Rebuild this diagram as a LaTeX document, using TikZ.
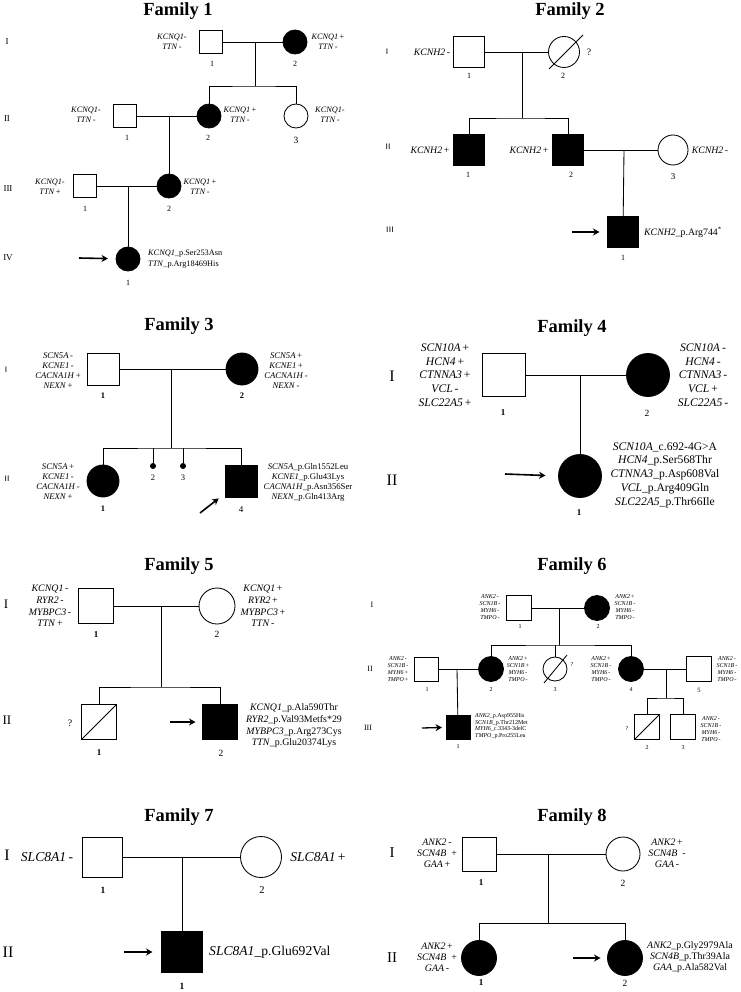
\documentclass[tikz,border=0pt]{standalone}
\usepackage{fontspec}
\setmainfont{Liberation Serif}
\usetikzlibrary{arrows.meta}
\newcommand{\gene}[1]{\textit{#1}}
\tikzset{
  ind/.style={draw, inner sep=0pt, outer sep=0pt, line width=0.85pt},
  male/.style={ind, rectangle, minimum size=#1},
  female/.style={ind, circle, minimum size=#1},
  aff/.style={fill=black},
  ln/.style={line width=0.85pt},
  dotnode/.style={circle, fill=black, inner sep=0pt, minimum size=6pt},
  proband/.style={line width=1.6pt, -{Stealth[length=6.5pt,width=7pt]}, shorten >=#1},
  title/.style={font=\bfseries\fontsize{18.5}{20}\selectfont, inner sep=0pt},
  lab/.style={align=center, inner sep=0pt},
  t1/.style={lab, font=\fontsize{8.3}{10.5}\selectfont},
  t2/.style={lab, font=\fontsize{9.8}{11}\selectfont},
  t3/.style={lab, font=\fontsize{8.7}{10}\selectfont},
  t4/.style={lab, font=\fontsize{11.6}{13.8}\selectfont},
  t5/.style={lab, font=\fontsize{9.9}{11.7}\selectfont},
  t6/.style={lab, font=\fontsize{6}{6.7}\selectfont},
  t7/.style={lab, font=\fontsize{13.6}{15}\selectfont},
  t8/.style={lab, font=\fontsize{9.9}{10.8}\selectfont},
  num/.style={inner sep=0pt, font=\fontsize{#1}{#1}\selectfont},
  bnum/.style={inner sep=0pt, font=\bfseries\fontsize{#1}{#1}\selectfont},
  gen/.style={inner sep=0pt, font=\fontsize{#1}{#1}\selectfont},
  sgen/.style={inner sep=0pt, font=\sffamily\fontsize{#1}{#1}\selectfont},
}
\begin{document}
\begin{tikzpicture}[x=1pt,y=-1pt]
\path[use as bounding box] (0,0) rectangle (740,992);

% ================= Family 1 =================
\node[title] (F1t) at (178,11) {Family 1};
\node[gen=9] (F1gI) at (7,42) {I};
\node[gen=9] (F1gII) at (7,119) {II};
\node[gen=9] (F1gIII) at (8,189) {III};
\node[gen=9] (F1gIV) at (8,258) {IV};
\node[male=23] (F1I1) at (211,42) {};
\node[female=24,aff] (F1I2) at (295,42) {};
\coordinate (F1m1) at (255,42);
\coordinate (F1s1) at (255,86);
\node[male=23] (F1II1) at (125,116) {};
\node[female=24,aff] (F1II2) at (209,116) {};
\node[female=24] (F1II3) at (296,116) {};
\coordinate (F1m2) at (169,116);
\node[male=23] (F1III1) at (85,186) {};
\node[female=24,aff] (F1III2) at (169,186) {};
\coordinate (F1m3) at (128,186);
\node[female=24,aff] (F1IV1) at (128,259) {};
\coordinate (F1a) at (79,258);
\draw[ln] (F1I1) -- (F1I2);
\draw[ln] (F1m1) -- (F1s1);
\draw[ln] (F1II2) |- (F1s1) -| (F1II3);
\draw[ln] (F1II1) -- (F1II2);
\draw[ln] (F1m2) -- (F1III2);
\draw[ln] (F1III1) -- (F1III2);
\draw[ln] (F1m3) -- (F1IV1);
\draw[proband=8pt] (F1a) -- (F1IV1);
\node[t1] (F1I1g) at (172,42) {\gene{KCNQ1}-\\\gene{TTN}\,-};
\node[t1] (F1I2g) at (328,42) {\gene{KCNQ1}\,+\\\gene{TTN}\,-};
\node[t1] (F1II1g) at (86,115) {\gene{KCNQ1}-\\\gene{TTN}\,-};
\node[t1] (F1II2g) at (240,115) {\gene{KCNQ1}\,+\\\gene{TTN}\,-};
\node[t1] (F1II3g) at (330,115) {\gene{KCNQ1}-\\\gene{TTN}\,-};
\node[t1] (F1III1g) at (50,187) {\gene{KCNQ1}-\\\gene{TTN}\,+};
\node[t1] (F1III2g) at (200,187) {\gene{KCNQ1}\,+\\\gene{TTN}\,-};
\node[t1, anchor=west, align=left] (F1IV1g) at (148,259) {\gene{KCNQ1}\_p.Ser253Asn\\\gene{TTN}\_p.Arg18469His};
\node[num=8] (F1I1n) at (212,64) {1};
\node[num=8] (F1I2n) at (295,64) {2};
\node[num=8] (F1II1n) at (127,138) {1};
\node[num=8] (F1II2n) at (208,138) {2};
\node[num=9.5] (F1II3n) at (296,140) {3};
\node[num=8] (F1III1n) at (85,209) {1};
\node[num=8] (F1III2n) at (169,209) {2};
\node[num=8] (F1IV1n) at (128,283) {1};

% ================= Family 2 =================
\node[title] (F2t) at (570,11) {Family 2};
\node[sgen=8] (F2gI) at (387,52) {I};
\node[sgen=8] (F2gII) at (388,147) {II};
\node[sgen=8] (F2gIII) at (390,230) {III};
\node[male=31] (F2I1) at (469,52) {};
\node[female=31] (F2I2) at (564,52) {};
\coordinate (F2d1) at (549,69);
\coordinate (F2d2) at (583,35);
\draw[ln] (F2d1) -- (F2d2);
\coordinate (F2m1) at (522,52);
\coordinate (F2s1) at (522,118);
\node[male=31,aff] (F2II1) at (469,150) {};
\node[male=31,aff] (F2II2) at (568,150) {};
\node[female=30] (F2II3) at (673,150) {};
\coordinate (F2m2) at (624,150);
\node[male=31,aff] (F2III1) at (623,232) {};
\coordinate (F2a) at (572,232);
\draw[ln] (F2I1) -- (F2I2);
\draw[ln] (F2m1) -- (F2s1);
\draw[ln] (F2II1) |- (F2s1) -| (F2II2);
\draw[ln] (F2II2) -- (F2II3);
\draw[ln] (F2m2) -- (F2III1);
\draw[proband=8pt] (F2a) -- (F2III1);
\node[t2] (F2I2q) at (589,52) {?};
\node[t2] (F2I1g) at (432,52) {\gene{KCNH2}\,-};
\node[t2] (F2II1g) at (430,150) {\gene{KCNH2}\,+};
\node[t2] (F2II2g) at (529,150) {\gene{KCNH2}\,+};
\node[t2] (F2II3g) at (710,150) {\gene{KCNH2}\,-};
\node[t2, anchor=west] (F2III1g) at (644,232) {\gene{KCNH2}\_p.Arg744\textsuperscript{*}};
\node[num=8] (F2I1n) at (469,76) {1};
\node[num=8] (F2I2n) at (563,76) {2};
\node[num=8] (F2II1n) at (468,175) {1};
\node[num=8] (F2II2n) at (571,175) {2};
\node[num=9] (F2II3n) at (673,177) {3};
\node[num=8] (F2III1n) at (623,258) {1};

% ================= Family 3 =================
\node[title] (F3t) at (179,326) {Family 3};
\node[sgen=8] (F3gI) at (6,370) {I};
\node[sgen=8] (F3gII) at (7,479) {II};
\node[male=32] (F3I1) at (103,369) {};
\node[female=32,aff] (F3I2) at (242,369) {};
\coordinate (F3m1) at (171,369);
\coordinate (F3s1) at (171,448);
\node[female=32,aff] (F3II1) at (103,481) {};
\node[dotnode] (F3II2) at (153,466) {};
\node[dotnode] (F3II3) at (183,466) {};
\node[male=32,aff] (F3II4) at (241,481) {};
\coordinate (F3s2) at (153,448);
\coordinate (F3s3) at (183,448);
\coordinate (F3a) at (200,513);
\draw[ln] (F3I1) -- (F3I2);
\draw[ln] (F3m1) -- (F3s1);
\draw[ln] (F3II1) |- (F3s1) -| (F3II4);
\draw[ln] (F3s2) -- (F3II2);
\draw[ln] (F3s3) -- (F3II3);
\draw[proband=8pt] (F3a) -- (F3II4);
\node[t3] (F3I1g) at (58,371) {\gene{SCN5A}\,-\\\gene{KCNE1}\,-\\\gene{CACNA1H}\,+\\\gene{NEXN}\,+};
\node[t3] (F3I2g) at (286,371) {\gene{SCN5A}\,+\\\gene{KCNE1}\,+\\\gene{CACNA1H}\,-\\\gene{NEXN}\,-};
\node[t3] (F3II1g) at (58,482) {\gene{SCN5A}\,+\\\gene{KCNE1}\,-\\\gene{CACNA1H}\,-\\\gene{NEXN}\,+};
\node[t3] (F3II4g) at (308,482) {\gene{SCN5A}\_p.Gln1552Leu\\\gene{KCNE1}\_p.Glu43Lys\\\gene{CACNA1H}\_p.Asn356Ser\\\gene{NEXN}\_p.Gln413Arg};
\node[bnum=8.5] (F3I1n) at (103,396) {1};
\node[bnum=8.5] (F3I2n) at (242,396) {2};
\node[num=8.5] (F3II2n) at (153,478) {2};
\node[num=8.5] (F3II3n) at (183,478) {3};
\node[bnum=8.5] (F3II1n) at (103,509) {1};
\node[num=9] (F3II4n) at (241,510) {4};

% ================= Family 4 =================
\node[title] (F4t) at (572,328) {Family 4};
\node[gen=16] (F4gI) at (392,376) {I};
\node[gen=16] (F4gII) at (392,480) {II};
\node[male=43] (F4I1) at (504,375) {};
\node[female=43,aff] (F4I2) at (648,375) {};
\coordinate (F4m1) at (580,375);
\node[female=43,aff] (F4II1) at (580,476) {};
\coordinate (F4a) at (505,474);
\draw[ln] (F4I1) -- (F4I2);
\draw[ln] (F4m1) -- (F4II1);
\draw[proband=13pt] (F4a) -- (F4II1.west);
\node[t4] (F4I1g) at (445,375) {\gene{SCN10A}\,+\\\gene{HCN4}\,+\\\gene{CTNNA3}\,+\\\gene{VCL}\,-\\\gene{SLC22A5}\,+};
\node[t4] (F4I2g) at (703,375) {\gene{SCN10A}\,-\\\gene{HCN4}\,-\\\gene{CTNNA3}\,-\\\gene{VCL}\,+\\\gene{SLC22A5}\,-};
\node[t4] (F4II1g) at (665,475) {\gene{SCN10A}\_c.692-4G>A\\\gene{HCN4}\_p.Ser568Thr\\\gene{CTNNA3}\_p.Asp608Val\\\gene{VCL}\_p.Arg409Gln\\\gene{SLC22A5}\_p.Thr66Ile};
\node[bnum=9] (F4I1n) at (503,413) {1};
\node[num=9.5] (F4I2n) at (647,413) {2};
\node[bnum=9] (F4II1n) at (579,513) {1};

% ================= Family 5 =================
\node[title] (F5t) at (179,566) {Family 5};
\node[gen=13] (F5gI) at (6,604) {I};
\node[gen=13] (F5gII) at (7,720) {II};
\node[male=35] (F5I1) at (96,606) {};
\node[female=36] (F5I2) at (217,606) {};
\coordinate (F5m1) at (161,606);
\coordinate (F5s1) at (161,687);
\node[male=35] (F5II1) at (99,722) {};
\node[male=35,aff] (F5II2) at (220,722) {};
\coordinate (F5a) at (170,722);
\draw[ln] (F5I1) -- (F5I2);
\draw[ln] (F5m1) -- (F5s1);
\draw[ln] (F5II1) |- (F5s1) -| (F5II2);
\draw[ln] (F5II1.south west) -- (F5II1.north east);
\draw[proband=7pt] (F5a) -- (F5II2);
\node[t5] (F5II1q) at (70,723) {?};
\node[t5] (F5I1g) at (50,606) {\gene{KCNQ1}\,-\\\gene{RYR2}\,-\\\gene{MYBPC3}\,-\\\gene{TTN}\,+};
\node[t5] (F5I2g) at (263,606) {\gene{KCNQ1}\,+\\\gene{RYR2}\,+\\\gene{MYBPC3}\,+\\\gene{TTN}\,-};
\node[t5] (F5II2g) at (294,726) {\gene{KCNQ1}\_p.Ala590Thr\\\gene{RYR2}\_p.Val93Metfs*29\\\gene{MYBPC3}\_p.Arg273Cys\\\gene{TTN}\_p.Glu20374Lys};
\node[bnum=9] (F5I1n) at (96,635) {1};
\node[num=9.5] (F5I2n) at (217,634) {2};
\node[bnum=9] (F5II1n) at (99,753) {1};
\node[num=9.5] (F5II2n) at (221,753) {2};

% ================= Family 6 =================
\node[title] (F6t) at (572,566) {Family 6};
\node[gen=8] (F6gI) at (372,605) {I};
\node[gen=8] (F6gII) at (370,669) {II};
\node[gen=8] (F6gIII) at (368,728) {III};
\node[male=25] (F6I1) at (519,608) {};
\node[female=25,aff] (F6I2) at (597,608) {};
\coordinate (F6m1) at (559,608);
\coordinate (F6s1) at (559,645);
\node[male=24] (F6II1) at (426,669) {};
\node[female=25,aff] (F6II2) at (491,669) {};
\node[female=24] (F6II3) at (555,669) {};
\node[female=25,aff] (F6II4) at (631,669) {};
\node[male=25] (F6II5) at (699,669) {};
\coordinate (F6s3) at (555,645);
\coordinate (F6m2) at (457,669);
\coordinate (F6m3) at (666,669);
\coordinate (F6s4) at (666,698);
\node[male=24,aff] (F6III1) at (458,727) {};
\node[male=25] (F6III2) at (647,727) {};
\node[male=25] (F6III3) at (683,727) {};
\coordinate (F6d1) at (544,683);
\coordinate (F6d2) at (567,655);
\coordinate (F6a) at (422,728);
\draw[ln] (F6I1) -- (F6I2);
\draw[ln] (F6m1) -- (F6s1);
\draw[ln] (F6II2) |- (F6s1) -| (F6II4);
\draw[ln] (F6s3) -- (F6II3);
\draw[ln] (F6d1) -- (F6d2);
\draw[ln] (F6II1) -- (F6II2);
\draw[ln] (F6m2) -- (F6III1);
\draw[ln] (F6II4) -- (F6II5);
\draw[ln] (F6m3) -- (F6s4);
\draw[ln] (F6III2) |- (F6s4) -| (F6III3);
\draw[ln] (F6III2.south west) -- (F6III2.north east);
\draw[proband=4pt, line width=1.3pt] (F6a) -- (F6III1);
\node[t6] (F6II3q) at (572,665) {?};
\node[t6] (F6III2q) at (627,729) {?};
\node[t6] (F6I1g) at (490,607) {\gene{ANK2}\,-\\\gene{SCN1B}\,-\\\gene{MYH6}\,-\\\gene{TMPO}\,-};
\node[t6] (F6I2g) at (625,607) {\gene{ANK2}\,+\\\gene{SCN1B}\,-\\\gene{MYH6}\,-\\\gene{TMPO}\,-};
\node[t6] (F6II1g) at (398,669) {\gene{ANK2}\,-\\\gene{SCN1B}\,-\\\gene{MYH6}\,+\\\gene{TMPO}\,+};
\node[t6] (F6II2g) at (518,669) {\gene{ANK2}\,+\\\gene{SCN1B}\,+\\\gene{MYH6}\,-\\\gene{TMPO}\,-};
\node[t6] (F6II4g) at (601,669) {\gene{ANK2}\,+\\\gene{SCN1B}\,-\\\gene{MYH6}\,-\\\gene{TMPO}\,-};
\node[t6] (F6II5g) at (727,669) {\gene{ANK2}\,-\\\gene{SCN1B}\,-\\\gene{MYH6}\,-\\\gene{TMPO}\,-};
\node[t6, anchor=west, align=left] (F6III1g) at (475,726) {\gene{ANK2}\_p.Asp955His\\\gene{SCN1B}\_p.Thr212Met\\\gene{MYH6}\_c.3343-3delC\\\gene{TMPO}\_p.Pro255Leu};
\node[t6] (F6III3g) at (711,729) {\gene{ANK2}\,-\\\gene{SCN1B}\,-\\\gene{MYH6}\,-\\\gene{TMPO}\,-};
\node[num=6] (F6I1n) at (520,627) {1};
\node[num=6] (F6I2n) at (598,627) {2};
\node[num=6] (F6II1n) at (427,690) {1};
\node[num=6] (F6II2n) at (491,690) {2};
\node[num=6] (F6II3n) at (555,690) {3};
\node[num=6] (F6II4n) at (631,690) {4};
\node[num=6.5] (F6II5n) at (699,690) {5};
\node[num=6] (F6III1n) at (458,747) {1};
\node[num=6] (F6III2n) at (647,748) {2};
\node[num=6] (F6III3n) at (683,748) {3};

% ================= Family 7 =================
\node[title] (F7t) at (179,817) {Family 7};
\node[gen=16] (F7gI) at (7,855) {I};
\node[gen=16] (F7gII) at (8,952) {II};
\node[male=40] (F7I1) at (102,857) {};
\node[female=41] (F7I2) at (261,857) {};
\coordinate (F7m1) at (182,857);
\node[male=41,aff] (F7II1) at (182,952) {};
\coordinate (F7a) at (124,952);
\draw[ln] (F7I1) -- (F7I2);
\draw[ln] (F7m1) -- (F7II1);
\draw[proband=9pt] (F7a) -- (F7II1);
\node[t7] (F7I1g) at (47,857) {\gene{SLC8A1}\,-};
\node[t7] (F7I2g) at (318,857) {\gene{SLC8A1}\,+};
\node[t7, anchor=west] (F7II1g) at (209,952) {\gene{SLC8A1}\_p.Glu692Val};
\node[bnum=9.5] (F7I1n) at (103,890) {1};
\node[num=10.5] (F7I2n) at (262,890) {2};
\node[bnum=9.5] (F7II1n) at (182,986) {1};

% ================= Family 8 =================
\node[title] (F8t) at (572,817) {Family 8};
\node[gen=15] (F8gI) at (392,853) {I};
\node[gen=15] (F8gII) at (392,958) {II};
\node[male=34] (F8I1) at (479,854) {};
\node[female=34] (F8I2) at (623,854) {};
\coordinate (F8m1) at (548,854);
\coordinate (F8s1) at (548,923);
\node[female=35,aff] (F8II1) at (479,958) {};
\node[female=35,aff] (F8II2) at (625,958) {};
\coordinate (F8a) at (573,958);
\draw[ln] (F8I1) -- (F8I2);
\draw[ln] (F8m1) -- (F8s1);
\draw[ln] (F8II1) |- (F8s1) -| (F8II2);
\draw[proband=7pt] (F8a) -- (F8II2);
\node[t8] (F8I1g) at (437,853) {\gene{ANK2}\,-\\\gene{SCN4B}\,\,\,+\\\gene{GAA}\,+};
\node[t8] (F8I2g) at (667,853) {\gene{ANK2}\,+\\\gene{SCN4B}\,\,\,-\\\gene{GAA}\,-};
\node[t8] (F8II1g) at (437,957) {\gene{ANK2}\,+\\\gene{SCN4B}\,\,\,+\\\gene{GAA}\,-};
\node[t8] (F8II2g) at (690,957) {\gene{ANK2}\_p.Gly2979Ala\\\gene{SCN4B}\_p.Thr39Ala\\\gene{GAA}\_p.Ala582Val};
\node[bnum=9] (F8I1n) at (481,883) {1};
\node[num=9.5] (F8I2n) at (623,883) {2};
\node[bnum=9] (F8II1n) at (481,983) {1};
\node[num=9.5] (F8II2n) at (625,983) {2};
\end{tikzpicture}
\end{document}
